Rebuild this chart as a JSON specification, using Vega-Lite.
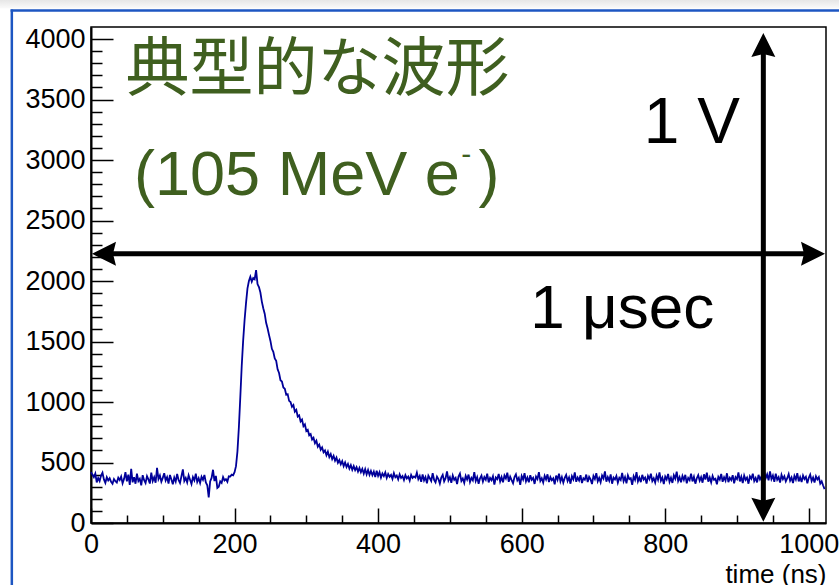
{
  "$schema": "https://vega.github.io/schema/vega-lite/v6.json",
  "width": 735,
  "height": 496,
  "autosize": "none",
  "padding": {"left": 91, "top": 27, "right": 13, "bottom": 62},
  "background": "white",
  "config": {"view": {"stroke": "black", "strokeWidth": 1.5}, "font": "Liberation Sans"},
  "datasets": {
    "one": [{}],
    "wave": [
      {"t":0,"v":421},{"t":2,"v":400},{"t":4,"v":379},{"t":6,"v":408},{"t":8,"v":336},{"t":10,"v":373},{"t":12,"v":347},{"t":14,"v":392},{"t":16,"v":416},{"t":18,"v":360},
      {"t":20,"v":331},{"t":22,"v":378},{"t":24,"v":352},{"t":26,"v":370},{"t":28,"v":341},{"t":30,"v":325},{"t":32,"v":363},{"t":34,"v":346},{"t":36,"v":334},{"t":38,"v":374},
      {"t":40,"v":355},{"t":42,"v":384},{"t":44,"v":328},{"t":46,"v":363},{"t":48,"v":421},{"t":50,"v":344},{"t":52,"v":400},{"t":54,"v":315},{"t":56,"v":448},{"t":58,"v":336},
      {"t":60,"v":379},{"t":62,"v":325},{"t":64,"v":408},{"t":66,"v":347},{"t":68,"v":366},{"t":70,"v":312},{"t":72,"v":395},{"t":74,"v":354},{"t":76,"v":330},{"t":78,"v":387},
      {"t":80,"v":360},{"t":82,"v":326},{"t":84,"v":416},{"t":86,"v":347},{"t":88,"v":378},{"t":90,"v":333},{"t":92,"v":455},{"t":94,"v":363},{"t":96,"v":392},{"t":98,"v":341},
      {"t":100,"v":373},{"t":102,"v":411},{"t":104,"v":352},{"t":106,"v":379},{"t":108,"v":326},{"t":110,"v":397},{"t":112,"v":360},{"t":114,"v":320},{"t":116,"v":376},{"t":118,"v":342},
      {"t":120,"v":405},{"t":122,"v":355},{"t":124,"v":330},{"t":126,"v":386},{"t":128,"v":443},{"t":130,"v":347},{"t":132,"v":373},{"t":134,"v":336},{"t":136,"v":394},{"t":138,"v":358},
      {"t":140,"v":322},{"t":142,"v":379},{"t":144,"v":352},{"t":146,"v":408},{"t":148,"v":339},{"t":150,"v":370},{"t":152,"v":331},{"t":154,"v":382},{"t":156,"v":357},{"t":158,"v":397},
      {"t":160,"v":336},{"t":162,"v":312},{"t":164,"v":212},{"t":166,"v":344},{"t":168,"v":373},{"t":170,"v":440},{"t":172,"v":347},{"t":174,"v":389},{"t":176,"v":290},{"t":178,"v":300},
      {"t":180,"v":344},{"t":182,"v":331},{"t":184,"v":379},{"t":186,"v":352},{"t":188,"v":363},{"t":190,"v":341},{"t":192,"v":386},{"t":194,"v":384},{"t":196,"v":400},{"t":198,"v":395},
      {"t":200,"v":420},{"t":202,"v":470},{"t":204,"v":590},{"t":206,"v":790},{"t":208,"v":1040},{"t":210,"v":1300},{"t":212,"v":1510},{"t":214,"v":1680},{"t":216,"v":1820},{"t":218,"v":1940},
      {"t":220,"v":2000},{"t":222,"v":2035},{"t":224,"v":1995},{"t":226,"v":2025},{"t":228,"v":2015},{"t":230,"v":2090},{"t":232,"v":1975},{"t":234,"v":1950},{"t":236,"v":1905},{"t":238,"v":1830},
      {"t":240,"v":1775},{"t":242,"v":1730},{"t":244,"v":1655},{"t":246,"v":1610},{"t":248,"v":1555},{"t":250,"v":1505},{"t":252,"v":1440},{"t":254,"v":1415},{"t":256,"v":1360},{"t":258,"v":1340},
      {"t":260,"v":1270},{"t":262,"v":1240},{"t":264,"v":1180},{"t":266,"v":1170},{"t":268,"v":1120},{"t":270,"v":1110},{"t":272,"v":1060},{"t":274,"v":1065},{"t":276,"v":1010},{"t":278,"v":1000},
      {"t":280,"v":960},{"t":282,"v":975},{"t":284,"v":920},{"t":286,"v":935},{"t":288,"v":880},{"t":290,"v":890},{"t":292,"v":840},{"t":294,"v":855},{"t":296,"v":800},{"t":298,"v":815},
      {"t":300,"v":760},{"t":302,"v":770},{"t":304,"v":725},{"t":306,"v":735},{"t":308,"v":690},{"t":310,"v":705},{"t":312,"v":660},{"t":314,"v":680},{"t":316,"v":630},{"t":318,"v":648},
      {"t":320,"v":605},{"t":322,"v":625},{"t":324,"v":585},{"t":326,"v":600},{"t":328,"v":560},{"t":330,"v":590},{"t":332,"v":545},{"t":334,"v":570},{"t":336,"v":528},{"t":338,"v":555},
      {"t":340,"v":515},{"t":342,"v":540},{"t":344,"v":498},{"t":346,"v":520},{"t":348,"v":485},{"t":350,"v":512},{"t":352,"v":470},{"t":354,"v":500},{"t":356,"v":462},{"t":358,"v":488},
      {"t":360,"v":450},{"t":362,"v":478},{"t":364,"v":440},{"t":366,"v":470},{"t":368,"v":437},{"t":370,"v":462},{"t":372,"v":425},{"t":374,"v":455},{"t":376,"v":420},{"t":378,"v":448},
      {"t":380,"v":408},{"t":382,"v":445},{"t":384,"v":402},{"t":386,"v":438},{"t":388,"v":398},{"t":390,"v":430},{"t":392,"v":395},{"t":394,"v":425},{"t":396,"v":380},{"t":398,"v":432},
      {"t":400,"v":390},{"t":402,"v":420},{"t":404,"v":375},{"t":406,"v":410},{"t":408,"v":388},{"t":410,"v":418},{"t":412,"v":372},{"t":414,"v":405},{"t":416,"v":382},{"t":418,"v":398},
      {"t":420,"v":365},{"t":422,"v":412},{"t":424,"v":378},{"t":426,"v":392},{"t":428,"v":360},{"t":430,"v":402},{"t":432,"v":372},{"t":434,"v":388},{"t":436,"v":355},{"t":438,"v":395},
      {"t":440,"v":368},{"t":442,"v":384},{"t":444,"v":350},{"t":446,"v":398},{"t":448,"v":372},{"t":450,"v":385},{"t":452,"v":376},{"t":454,"v":416},{"t":456,"v":363},{"t":458,"v":389},
      {"t":460,"v":341},{"t":462,"v":402},{"t":464,"v":352},{"t":466,"v":379},{"t":468,"v":328},{"t":470,"v":392},{"t":472,"v":370},{"t":474,"v":347},{"t":476,"v":411},{"t":478,"v":357},
      {"t":480,"v":336},{"t":482,"v":384},{"t":484,"v":363},{"t":486,"v":325},{"t":488,"v":376},{"t":490,"v":398},{"t":492,"v":344},{"t":494,"v":370},{"t":496,"v":427},{"t":498,"v":352},
      {"t":500,"v":379},{"t":502,"v":333},{"t":504,"v":392},{"t":506,"v":357},{"t":508,"v":373},{"t":510,"v":322},{"t":512,"v":384},{"t":514,"v":408},{"t":516,"v":347},{"t":518,"v":368},
      {"t":520,"v":331},{"t":522,"v":389},{"t":524,"v":360},{"t":526,"v":400},{"t":528,"v":339},{"t":530,"v":373},{"t":532,"v":352},{"t":534,"v":421},{"t":536,"v":347},{"t":538,"v":379},
      {"t":540,"v":325},{"t":542,"v":370},{"t":544,"v":392},{"t":546,"v":342},{"t":548,"v":379},{"t":550,"v":357},{"t":552,"v":408},{"t":554,"v":336},{"t":556,"v":373},{"t":558,"v":354},
      {"t":560,"v":386},{"t":562,"v":318},{"t":564,"v":376},{"t":566,"v":363},{"t":568,"v":405},{"t":570,"v":344},{"t":572,"v":379},{"t":574,"v":336},{"t":576,"v":392},{"t":578,"v":368},
      {"t":580,"v":416},{"t":582,"v":341},{"t":584,"v":382},{"t":586,"v":354},{"t":588,"v":328},{"t":590,"v":379},{"t":592,"v":402},{"t":594,"v":352},{"t":596,"v":373},{"t":598,"v":315},
      {"t":600,"v":389},{"t":602,"v":360},{"t":604,"v":411},{"t":606,"v":344},{"t":608,"v":376},{"t":610,"v":336},{"t":612,"v":395},{"t":614,"v":357},{"t":616,"v":373},{"t":618,"v":323},
      {"t":620,"v":384},{"t":622,"v":363},{"t":624,"v":421},{"t":626,"v":347},{"t":628,"v":370},{"t":630,"v":334},{"t":632,"v":390},{"t":634,"v":360},{"t":636,"v":402},{"t":638,"v":338},
      {"t":640,"v":379},{"t":642,"v":354},{"t":644,"v":370},{"t":646,"v":320},{"t":648,"v":392},{"t":650,"v":357},{"t":652,"v":408},{"t":654,"v":344},{"t":656,"v":379},{"t":658,"v":333},
      {"t":660,"v":373},{"t":662,"v":398},{"t":664,"v":347},{"t":666,"v":376},{"t":668,"v":325},{"t":670,"v":386},{"t":672,"v":360},{"t":674,"v":418},{"t":676,"v":341},{"t":678,"v":376},
      {"t":680,"v":352},{"t":682,"v":395},{"t":684,"v":330},{"t":686,"v":370},{"t":688,"v":357},{"t":690,"v":400},{"t":692,"v":338},{"t":694,"v":381},{"t":696,"v":360},{"t":698,"v":322},
      {"t":700,"v":389},{"t":702,"v":363},{"t":704,"v":411},{"t":706,"v":344},{"t":708,"v":373},{"t":710,"v":336},{"t":712,"v":392},{"t":714,"v":368},{"t":716,"v":427},{"t":718,"v":341},
      {"t":720,"v":379},{"t":722,"v":350},{"t":724,"v":402},{"t":726,"v":325},{"t":728,"v":376},{"t":730,"v":360},{"t":732,"v":389},{"t":734,"v":334},{"t":736,"v":373},{"t":738,"v":355},
      {"t":740,"v":414},{"t":742,"v":346},{"t":744,"v":379},{"t":746,"v":328},{"t":748,"v":394},{"t":750,"v":363},{"t":752,"v":370},{"t":754,"v":315},{"t":756,"v":386},{"t":758,"v":357},
      {"t":760,"v":421},{"t":762,"v":344},{"t":764,"v":376},{"t":766,"v":338},{"t":768,"v":398},{"t":770,"v":360},{"t":772,"v":376},{"t":774,"v":326},{"t":776,"v":389},{"t":778,"v":363},
      {"t":780,"v":408},{"t":782,"v":347},{"t":784,"v":370},{"t":786,"v":334},{"t":788,"v":392},{"t":790,"v":357},{"t":792,"v":418},{"t":794,"v":350},{"t":796,"v":376},{"t":798,"v":322},
      {"t":800,"v":384},{"t":802,"v":360},{"t":804,"v":405},{"t":806,"v":341},{"t":808,"v":374},{"t":810,"v":331},{"t":812,"v":394},{"t":814,"v":366},{"t":816,"v":424},{"t":818,"v":347},
      {"t":820,"v":379},{"t":822,"v":336},{"t":824,"v":389},{"t":826,"v":357},{"t":828,"v":398},{"t":830,"v":328},{"t":832,"v":373},{"t":834,"v":354},{"t":836,"v":408},{"t":838,"v":344},
      {"t":840,"v":382},{"t":842,"v":325},{"t":844,"v":370},{"t":846,"v":395},{"t":848,"v":350},{"t":850,"v":379},{"t":852,"v":333},{"t":854,"v":402},{"t":856,"v":360},{"t":858,"v":416},
      {"t":860,"v":342},{"t":862,"v":376},{"t":864,"v":336},{"t":866,"v":389},{"t":868,"v":357},{"t":870,"v":366},{"t":872,"v":320},{"t":874,"v":382},{"t":876,"v":360},{"t":878,"v":405},
      {"t":880,"v":341},{"t":882,"v":378},{"t":884,"v":350},{"t":886,"v":411},{"t":888,"v":338},{"t":890,"v":373},{"t":892,"v":355},{"t":894,"v":395},{"t":896,"v":328},{"t":898,"v":379},
      {"t":900,"v":363},{"t":902,"v":418},{"t":904,"v":344},{"t":906,"v":382},{"t":908,"v":331},{"t":910,"v":392},{"t":912,"v":357},{"t":914,"v":376},{"t":916,"v":325},{"t":918,"v":386},
      {"t":920,"v":366},{"t":922,"v":408},{"t":924,"v":347},{"t":926,"v":373},{"t":928,"v":336},{"t":930,"v":398},{"t":932,"v":360},{"t":934,"v":384},{"t":936,"v":347},{"t":938,"v":421},
      {"t":940,"v":370},{"t":942,"v":402},{"t":944,"v":352},{"t":946,"v":427},{"t":948,"v":363},{"t":950,"v":392},{"t":952,"v":341},{"t":954,"v":408},{"t":956,"v":357},{"t":958,"v":379},
      {"t":960,"v":334},{"t":962,"v":398},{"t":964,"v":363},{"t":966,"v":386},{"t":968,"v":344},{"t":970,"v":370},{"t":972,"v":405},{"t":974,"v":350},{"t":976,"v":376},{"t":978,"v":331},
      {"t":980,"v":389},{"t":982,"v":360},{"t":984,"v":411},{"t":986,"v":344},{"t":988,"v":379},{"t":990,"v":338},{"t":992,"v":392},{"t":994,"v":363},{"t":996,"v":382},{"t":998,"v":328},
      {"t":1000,"v":373},{"t":1002,"v":400},{"t":1004,"v":347},{"t":1006,"v":376},{"t":1008,"v":334},{"t":1010,"v":386},{"t":1012,"v":360},{"t":1014,"v":379},{"t":1016,"v":325},{"t":1018,"v":344},
      {"t":1020,"v":310},{"t":1022,"v":280}
    ]
  },
  "resolve": {"axis": {"x": "independent", "y": "independent"}},
  "layer": [
    {
      "data": {"name": "one"},
      "mark": {"type": "rect", "fill": {"gradient": "linear", "x1": 0, "y1": 0, "x2": 0, "y2": 1, "stops": [{"offset": 0, "color": "#e4e4e4"}, {"offset": 1, "color": "#fbfbfb"}]}},
      "encoding": {
        "x": {"datum": -130, "scale": {"domain": [0, 1024], "nice": false, "zero": false}, "axis": null},
        "x2": {"datum": 1100},
        "y": {"datum": 4330, "scale": {"domain": [0, 4100], "nice": false, "zero": false}, "axis": null},
        "y2": {"datum": 4252}
      }
    },
    {
      "data": {"name": "one"},
      "mark": {"type": "rule", "color": "#1d56c2", "strokeWidth": 2.5},
      "encoding": {
        "x": {"datum": -112, "scale": {"domain": [0, 1024], "nice": false, "zero": false}, "axis": null},
        "x2": {"datum": 1100},
        "y": {"datum": 4236, "scale": {"domain": [0, 4100], "nice": false, "zero": false}, "axis": null}
      }
    },
    {
      "data": {"name": "one"},
      "mark": {"type": "rule", "color": "#1d56c2", "strokeWidth": 2.5},
      "encoding": {
        "x": {"datum": -110.3, "scale": {"domain": [0, 1024], "nice": false, "zero": false}, "axis": null},
        "y": {"datum": 4245, "scale": {"domain": [0, 4100], "nice": false, "zero": false}, "axis": null},
        "y2": {"datum": -560}
      }
    },
    {
      "data": {"name": "wave"},
      "mark": {"type": "point", "opacity": 0},
      "encoding": {
        "x": {"field": "t", "type": "quantitative", "scale": {"domain": [0, 1024], "nice": false, "zero": false},
          "axis": {"orient": "bottom", "values": [50, 100, 150, 250, 300, 350, 450, 500, 550, 650, 700, 750, 850, 900, 950], "tickSize": -8, "tickWidth": 1.5, "tickColor": "black", "labels": false, "domain": false, "grid": false, "title": null}},
        "y": {"field": "v", "type": "quantitative", "scale": {"domain": [0, 4100], "nice": false, "zero": false},
          "axis": {"orient": "left", "values": [100, 200, 300, 400, 600, 700, 800, 900, 1100, 1200, 1300, 1400, 1600, 1700, 1800, 1900, 2100, 2200, 2300, 2400, 2600, 2700, 2800, 2900, 3100, 3200, 3300, 3400, 3600, 3700, 3800, 3900], "tickSize": -11, "tickWidth": 1.5, "tickColor": "black", "labels": false, "domain": false, "grid": false, "title": null}}
      }
    },
    {
      "data": {"name": "wave"},
      "mark": {"type": "line", "color": "#000099", "strokeWidth": 1.8},
      "encoding": {
        "x": {"field": "t", "type": "quantitative", "scale": {"domain": [0, 1024], "nice": false, "zero": false},
          "axis": {"orient": "bottom", "values": [0, 200, 400, 600, 800, 1000], "format": "d", "tickSize": -15, "tickWidth": 1.5, "tickColor": "black", "domainColor": "black", "domainWidth": 2, "grid": false,
            "labelFont": "Liberation Sans", "labelFontSize": 27, "labelColor": "black", "labelPadding": 23, "labelFlush": false, "labelOverlap": false,
            "title": "time (ns)", "titleFont": "Liberation Sans", "titleFontSize": 26, "titleFontWeight": "normal", "titleColor": "black", "titleAnchor": "end", "titleAlign": "right", "titleX": 735, "titleY": 59, "titleBaseline": "alphabetic"}},
        "y": {"field": "v", "type": "quantitative", "scale": {"domain": [0, 4100], "nice": false, "zero": false},
          "axis": {"orient": "left", "values": [0, 500, 1000, 1500, 2000, 2500, 3000, 3500, 4000], "format": "d", "tickSize": -22, "tickWidth": 1.5, "tickColor": "black", "domainColor": "black", "domainWidth": 2, "grid": false,
            "labelFont": "Liberation Sans", "labelFontSize": 27, "labelColor": "black", "labelPadding": 28, "labelFlush": false, "labelOverlap": false, "title": null}}
      }
    },
    {
      "data": {"name": "one"},
      "mark": {"type": "rule", "color": "black", "strokeWidth": 5},
      "encoding": {
        "x": {"datum": 16, "scale": {"domain": [0, 1024], "nice": false, "zero": false}, "axis": null},
        "x2": {"datum": 1008},
        "y": {"datum": 2225, "scale": {"domain": [0, 4100], "nice": false, "zero": false}, "axis": null}
      }
    },
    {
      "data": {"name": "one"},
      "mark": {"type": "rule", "color": "black", "strokeWidth": 5},
      "encoding": {
        "x": {"datum": 936.7, "scale": {"domain": [0, 1024], "nice": false, "zero": false}, "axis": null},
        "y": {"datum": 3955, "scale": {"domain": [0, 4100], "nice": false, "zero": false}, "axis": null},
        "y2": {"datum": 105}
      }
    },
    {
      "data": {"name": "one"},
      "mark": {"type": "point", "filled": true, "color": "black", "opacity": 1, "size": 576, "shape": "M0,0 L-2,-1 L-1.75,0 L-2,1 Z"},
      "encoding": {
        "x": {"datum": 1022.6, "scale": {"domain": [0, 1024], "nice": false, "zero": false}, "axis": null},
        "y": {"datum": 2225, "scale": {"domain": [0, 4100], "nice": false, "zero": false}, "axis": null}
      }
    },
    {
      "data": {"name": "one"},
      "mark": {"type": "point", "filled": true, "color": "black", "opacity": 1, "size": 576, "shape": "M0,0 L2,-1 L1.75,0 L2,1 Z"},
      "encoding": {
        "x": {"datum": 1.4, "scale": {"domain": [0, 1024], "nice": false, "zero": false}, "axis": null},
        "y": {"datum": 2225, "scale": {"domain": [0, 4100], "nice": false, "zero": false}, "axis": null}
      }
    },
    {
      "data": {"name": "one"},
      "mark": {"type": "point", "filled": true, "color": "black", "opacity": 1, "size": 576, "shape": "M0,0 L-1,2 L0,1.75 L1,2 Z"},
      "encoding": {
        "x": {"datum": 936.7, "scale": {"domain": [0, 1024], "nice": false, "zero": false}, "axis": null},
        "y": {"datum": 4050, "scale": {"domain": [0, 4100], "nice": false, "zero": false}, "axis": null}
      }
    },
    {
      "data": {"name": "one"},
      "mark": {"type": "point", "filled": true, "color": "black", "opacity": 1, "size": 576, "shape": "M0,0 L-1,-2 L0,-1.75 L1,-2 Z"},
      "encoding": {
        "x": {"datum": 936.7, "scale": {"domain": [0, 1024], "nice": false, "zero": false}, "axis": null},
        "y": {"datum": 10, "scale": {"domain": [0, 4100], "nice": false, "zero": false}, "axis": null}
      }
    },
    {
      "data": {"name": "one"},
      "mark": {"type": "text", "text": "典型的な波形", "font": "Noto Sans CJK JP", "fontSize": 64, "color": "#3f5f1f", "align": "left", "baseline": "alphabetic"},
      "encoding": {
        "x": {"datum": 48, "scale": {"domain": [0, 1024], "nice": false, "zero": false}, "axis": null},
        "y": {"datum": 3579, "scale": {"domain": [0, 4100], "nice": false, "zero": false}, "axis": null}
      }
    },
    {
      "data": {"name": "one"},
      "mark": {"type": "text", "text": "(105 MeV e", "font": "Liberation Sans", "fontSize": 63, "color": "#3f5f1f", "align": "left", "baseline": "alphabetic"},
      "encoding": {
        "x": {"datum": 60, "scale": {"domain": [0, 1024], "nice": false, "zero": false}, "axis": null},
        "y": {"datum": 2711, "scale": {"domain": [0, 4100], "nice": false, "zero": false}, "axis": null}
      }
    },
    {
      "data": {"name": "one"},
      "mark": {"type": "text", "text": "-", "font": "Liberation Sans", "fontSize": 30, "color": "#3f5f1f", "align": "left", "baseline": "alphabetic"},
      "encoding": {
        "x": {"datum": 516, "scale": {"domain": [0, 1024], "nice": false, "zero": false}, "axis": null},
        "y": {"datum": 2967, "scale": {"domain": [0, 4100], "nice": false, "zero": false}, "axis": null}
      }
    },
    {
      "data": {"name": "one"},
      "mark": {"type": "text", "text": ")", "font": "Liberation Sans", "fontSize": 63, "color": "#3f5f1f", "align": "left", "baseline": "alphabetic"},
      "encoding": {
        "x": {"datum": 540, "scale": {"domain": [0, 1024], "nice": false, "zero": false}, "axis": null},
        "y": {"datum": 2711, "scale": {"domain": [0, 4100], "nice": false, "zero": false}, "axis": null}
      }
    },
    {
      "data": {"name": "one"},
      "mark": {"type": "text", "text": "1 V", "font": "Liberation Sans", "fontSize": 64, "color": "black", "align": "right", "baseline": "alphabetic"},
      "encoding": {
        "x": {"datum": 904, "scale": {"domain": [0, 1024], "nice": false, "zero": false}, "axis": null},
        "y": {"datum": 3140, "scale": {"domain": [0, 4100], "nice": false, "zero": false}, "axis": null}
      }
    },
    {
      "data": {"name": "one"},
      "mark": {"type": "text", "text": "1 μsec", "font": "Liberation Sans", "fontSize": 62, "color": "black", "align": "left", "baseline": "alphabetic"},
      "encoding": {
        "x": {"datum": 612, "scale": {"domain": [0, 1024], "nice": false, "zero": false}, "axis": null},
        "y": {"datum": 1612, "scale": {"domain": [0, 4100], "nice": false, "zero": false}, "axis": null}
      }
    }
  ]
}
